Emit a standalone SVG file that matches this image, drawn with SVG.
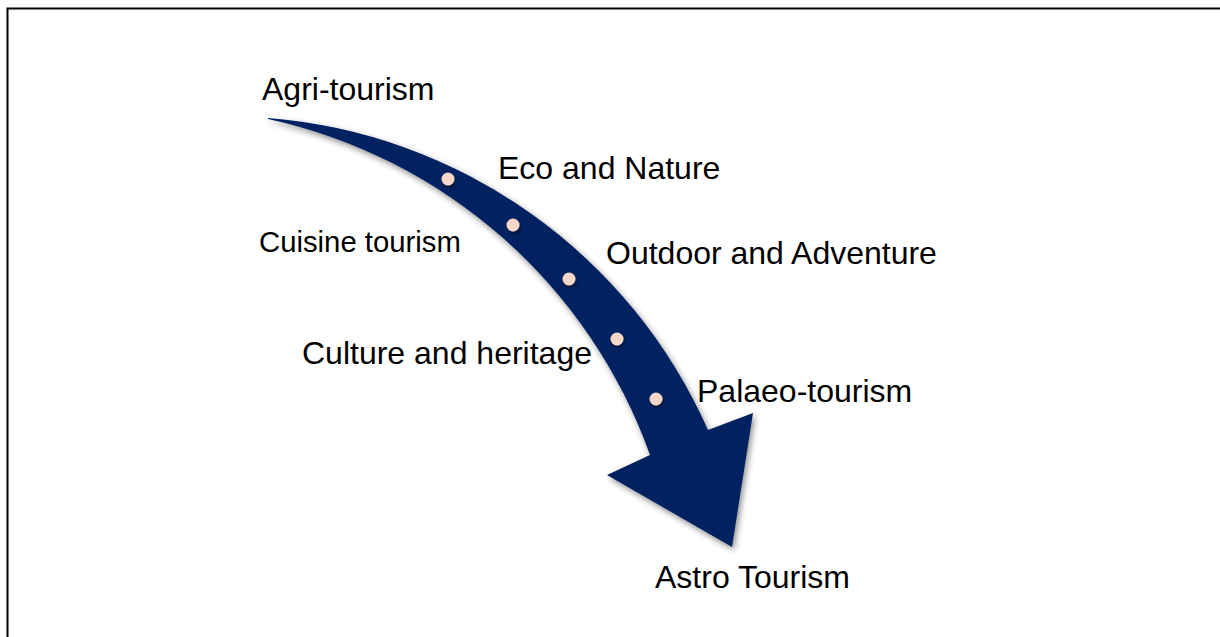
<svg xmlns="http://www.w3.org/2000/svg" width="1220" height="637" viewBox="0 0 1220 637">
<defs>
<style>
.lbl{font-family:"Liberation Sans",Arial,sans-serif;font-size:32px;fill:#000}
.sm{font-size:29.3px}
.dot{fill:#f8d6c9;filter:url(#ds)}
</style>
<filter id="sh" x="-20%" y="-20%" width="140%" height="140%">
<feDropShadow dx="2" dy="3" stdDeviation="3" flood-color="#000" flood-opacity="0.45"/>
</filter>
<filter id="ds" x="-100%" y="-100%" width="300%" height="300%">
<feDropShadow dx="1" dy="2" stdDeviation="1.5" flood-color="#000" flood-opacity="0.5"/>
</filter>
</defs>
<rect width="1220" height="637" fill="#fff"/>
<g id="frame">
<path d="M7.5,637 V8.5 H1220" fill="none" stroke="#000" stroke-width="2"/>
</g>
<g id="arrow">
<path d="M268,118 A527.4,527.4 0 0 1 708,430 L753,413 L732,547 L607,475 L650,455 A524.4,524.4 0 0 0 268,119 Z" fill="#002060" filter="url(#sh)"/>
<circle class="dot" cx="448" cy="179" r="6.5"/>
<circle class="dot" cx="513" cy="225" r="6.5"/>
<circle class="dot" cx="569" cy="279" r="6.5"/>
<circle class="dot" cx="617" cy="339" r="6.5"/>
<circle class="dot" cx="656" cy="399" r="6.5"/>
</g>
<g id="labels">
<text class="lbl" x="262" y="100">Agri-tourism</text>
<text class="lbl" x="498" y="179">Eco and Nature</text>
<text class="lbl sm" x="259" y="252">Cuisine tourism</text>
<text class="lbl" x="606" y="264">Outdoor and Adventure</text>
<text class="lbl" x="302" y="364">Culture and heritage</text>
<text class="lbl" x="697" y="402">Palaeo-tourism</text>
<text class="lbl" x="655" y="588">Astro Tourism</text>
</g>
</svg>
